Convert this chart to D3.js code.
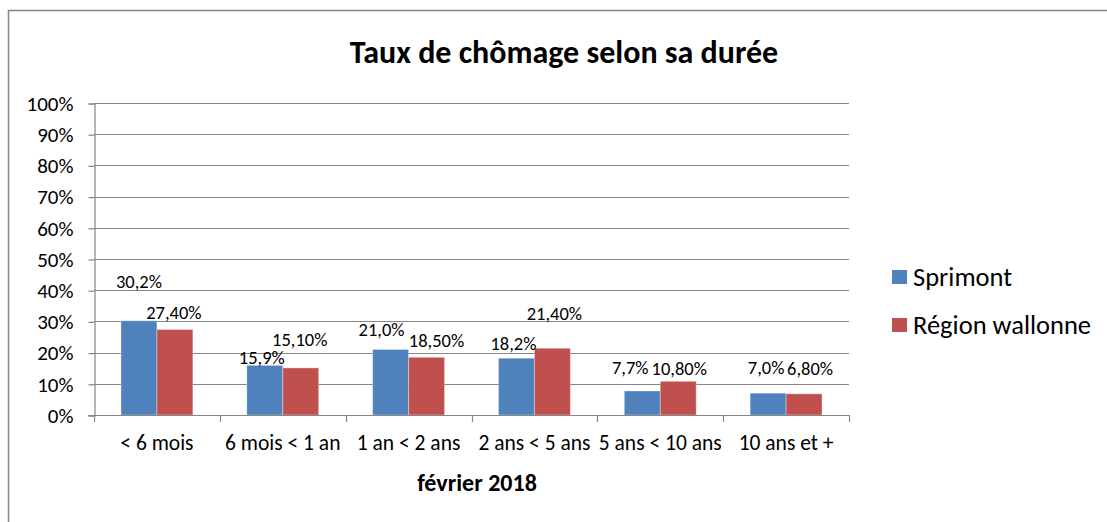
<!DOCTYPE html>
<html>
<head>
<meta charset="utf-8">
<script src="https://cdn.jsdelivr.net/npm/d3@7"></script>
<style>
  body { margin: 0; background: #fff; }
  svg { display: block; font-family: Calibri, Carlito, 'Open Sans', sans-serif; }
</style>
</head>
<body>
<div id="chart"></div>
<script>
// Chart data
const categories = ['< 6 mois', '6 mois < 1 an', '1 an < 2 ans', '2 ans < 5 ans', '5 ans < 10 ans', '10 ans et +']
const seriesNames = ['Sprimont', 'Région wallonne']
const sprimont = [0.302, 0.159, 0.210, 0.182, 0.077, 0.070]
const wallonie = [0.274, 0.151, 0.185, 0.214, 0.108, 0.068]
const sprimontLabels = ['30,2%', '15,9%', '21,0%', '18,2%', '7,7%', '7,0%']
const wallonieLabels = ['27,40%', '15,10%', '18,50%', '21,40%', '10,80%', '6,80%']
const yTicks = [0, 0.1, 0.2, 0.3, 0.4, 0.5, 0.6, 0.7, 0.8, 0.9, 1]
const colors = ['#4f81bd', '#c0504d']

// label nudges (dx, height of label centre above the bar top), like Excel placed them
const labelNudge = [
  [[0, 39], [-3, 8], [-9, 20], [-3, 15], [-12, 23], [-2, 26]],
  [[-1, 17], [-1, 28], [10, 17], [2, 35], [1, 13], [6, 25]]
]

const width = 1107
const height = 522
const plot = { left: 94, right: 849, top: 103, bottom: 415 }
const gridColor = '#868686'

const svg = d3.select('#chart').append('svg')
  .attr('width', width)
  .attr('height', height)

// outer chart border (cropped at right and bottom)
svg.append('rect')
  .attr('x', 8.5).attr('y', 10.5)
  .attr('width', width + 20).attr('height', height + 20)
  .attr('fill', 'none')
  .attr('stroke', gridColor)
  .attr('stroke-width', 1.5)

const x0 = d3.scaleBand().domain(categories).range([plot.left, plot.right]).padding(0)
const x1 = d3.scaleBand().domain(seriesNames).range([0, x0.bandwidth()])
  .paddingInner(0).paddingOuter(0.75)
const y = d3.scaleLinear().domain([0, 1]).range([plot.bottom, plot.top])

// gridlines
svg.append('g')
  .selectAll('line')
  .data(yTicks)
  .enter().append('line')
  .attr('x1', plot.left).attr('x2', plot.right)
  .attr('y1', (d) => Math.round(y(d)) + 0.5)
  .attr('y2', (d) => Math.round(y(d)) + 0.5)
  .attr('stroke', gridColor)
  .attr('stroke-width', 1.2)

// y axis
const yAxis = svg.append('g')
  .attr('transform', 'translate(' + (plot.left + 0.5) + ',0.5)')
  .call(d3.axisLeft(y).tickValues(yTicks).tickSize(6).tickPadding(15)
    .tickFormat((d) => Math.round(d * 100) + '%'))
yAxis.attr('font-family', null).attr('font-size', null)
yAxis.select('.domain').attr('stroke', gridColor).attr('stroke-width', 1.2)
yAxis.selectAll('.tick line').attr('stroke', gridColor).attr('stroke-width', 1.2)
yAxis.selectAll('.tick text')
  .attr('fill', '#000')
  .style('font-size', '21px')

// bars
const data = categories.map((c, i) => ({
  cat: c,
  values: [
    { s: seriesNames[0], v: sprimont[i], label: sprimontLabels[i], k: 0, i: i },
    { s: seriesNames[1], v: wallonie[i], label: wallonieLabels[i], k: 1, i: i }
  ]
}))

const groups = svg.append('g')
  .selectAll('g')
  .data(data)
  .enter().append('g')
  .attr('transform', (d) => 'translate(' + x0(d.cat) + ',0)')

groups.selectAll('rect')
  .data((d) => d.values)
  .enter().append('rect')
  .attr('x', (d) => x1(d.s))
  .attr('width', x1.bandwidth())
  .attr('y', (d) => y(d.v))
  .attr('height', (d) => plot.bottom - y(d.v))
  .attr('fill', (d) => colors[d.k])
  .attr('stroke', 'rgba(255,255,255,0.35)')
  .attr('stroke-width', 1)

// data labels
groups.selectAll('text')
  .data((d) => d.values)
  .enter().append('text')
  .attr('x', (d) => x1(d.s) + x1.bandwidth() / 2 + labelNudge[d.k][d.i][0])
  .attr('y', (d) => y(d.v) - labelNudge[d.k][d.i][1])
  .attr('text-anchor', 'middle')
  .attr('dominant-baseline', 'central')
  .style('font-size', '18.5px')
  .attr('fill', '#000')
  .text((d) => d.label)

// x axis line and boundary ticks
svg.append('line')
  .attr('x1', plot.left - 6).attr('x2', plot.right)
  .attr('y1', plot.bottom + 0.5).attr('y2', plot.bottom + 0.5)
  .attr('stroke', gridColor).attr('stroke-width', 1.2)

const edges = categories.map((c) => x0(c)).concat([plot.right])
svg.append('g')
  .selectAll('line')
  .data(edges)
  .enter().append('line')
  .attr('x1', (d) => Math.round(d) + 0.5).attr('x2', (d) => Math.round(d) + 0.5)
  .attr('y1', plot.bottom).attr('y2', plot.bottom + 7)
  .attr('stroke', gridColor).attr('stroke-width', 1.2)

svg.append('g')
  .selectAll('text')
  .data(categories)
  .enter().append('text')
  .attr('x', (d) => x0(d) + x0.bandwidth() / 2)
  .attr('y', 443)
  .attr('text-anchor', 'middle')
  .attr('dominant-baseline', 'central')
  .style('font-size', '21.5px')
  .text((d) => d)

// axis title
svg.append('text')
  .attr('x', 477).attr('y', 482)
  .attr('text-anchor', 'middle')
  .attr('dominant-baseline', 'central')
  .style('font-size', '24px')
  .style('font-weight', 'bold')
  .text('février 2018')

// chart title
svg.append('text')
  .attr('x', 564).attr('y', 52)
  .attr('text-anchor', 'middle')
  .attr('dominant-baseline', 'central')
  .style('font-size', '32px')
  .style('font-weight', 'bold')
  .text('Taux de chômage selon sa durée')

// legend
const legend = svg.append('g')
  .selectAll('g')
  .data(seriesNames)
  .enter().append('g')
  .attr('transform', (d, i) => 'translate(892,' + (277 + i * 48) + ')')

legend.append('rect')
  .attr('x', 0).attr('y', -7)
  .attr('width', 15).attr('height', 14)
  .attr('fill', (d, i) => colors[i])

legend.append('text')
  .attr('x', 21).attr('y', 0)
  .attr('dominant-baseline', 'central')
  .style('font-size', '26.5px')
  .text((d) => d)
</script>
</body>
</html>
